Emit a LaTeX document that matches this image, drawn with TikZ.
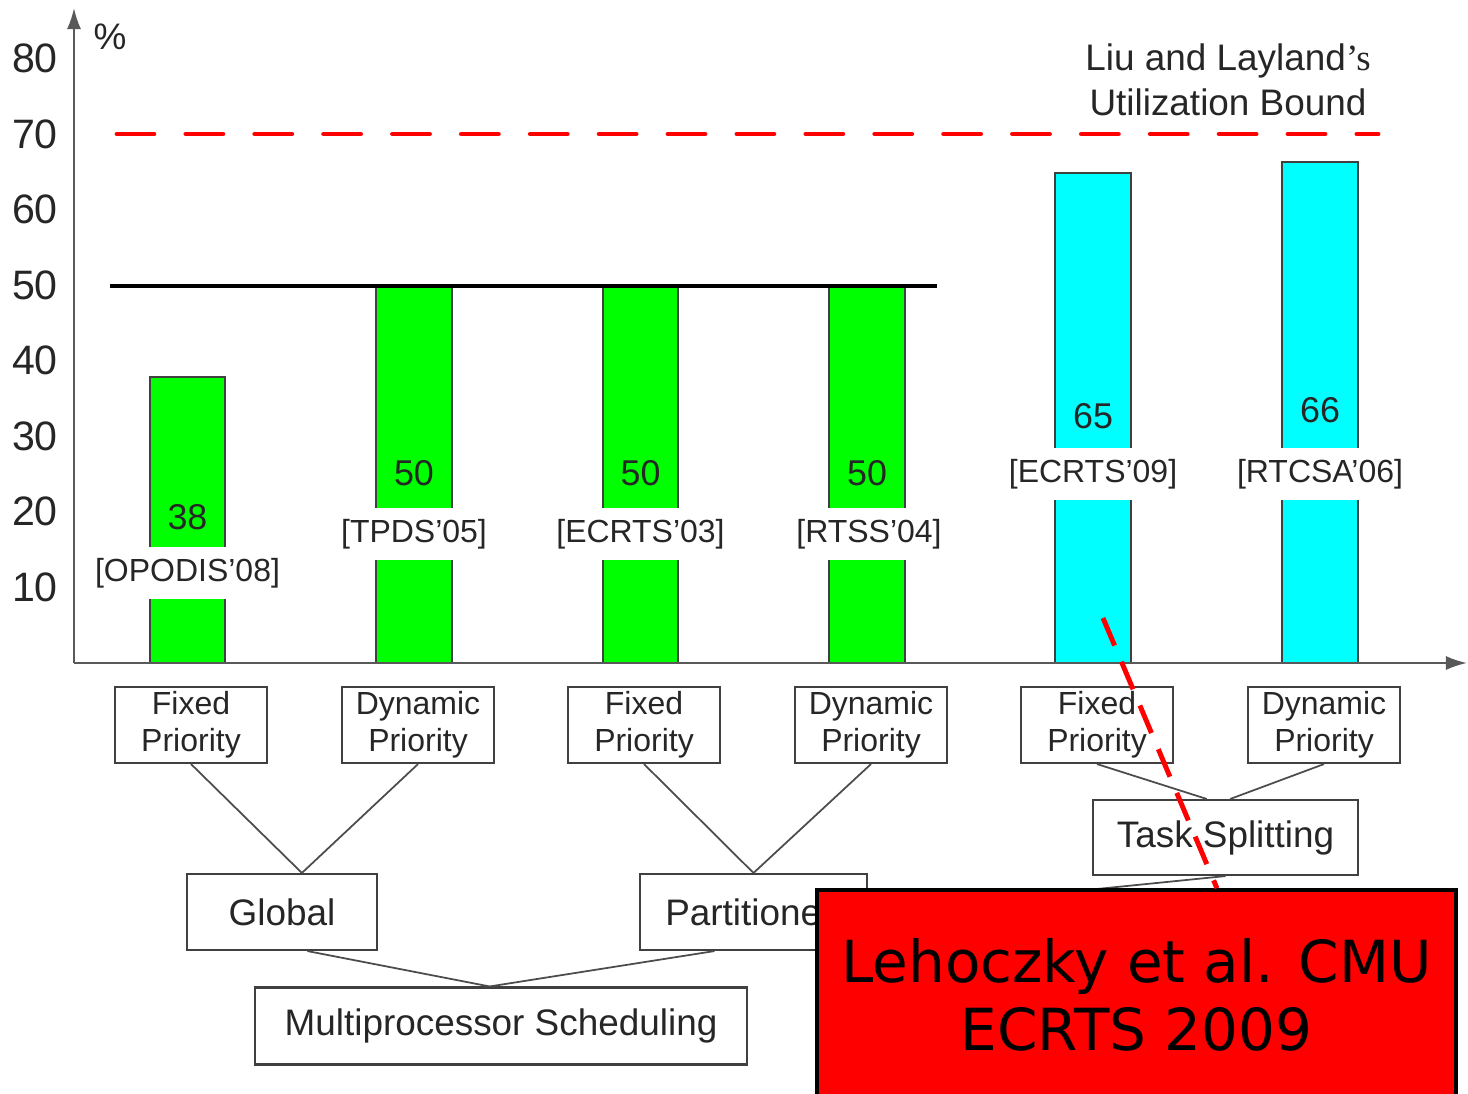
\documentclass[tikz,border=0pt]{standalone}
\usepackage{fontspec}
\setmainfont{Liberation Sans}
\newfontfamily\citefont{DejaVu Sans}
\newfontfamily\serifpart{Liberation Serif}
\usetikzlibrary{arrows.meta, positioning, calc}
\definecolor{bargreen}{RGB}{0,255,0}
\definecolor{barcyan}{RGB}{0,255,255}

\begin{document}
\begin{tikzpicture}[x=0.1mm, y=-0.1mm, text=black!85,
    axisline/.style={draw=black!65, line width=0.6pt},
    barbox/.style={draw=black!75, line width=0.6pt},
    ticklabel/.style={font=\fontsize{11.7pt}{13pt}\selectfont},
    barvalue/.style={font=\fontsize{10.2pt}{12pt}\selectfont},
    reflabel/.style={fill=white, inner xsep=1pt, inner ysep=0pt, minimum height=15pt, font=\fontsize{9.1pt}{11pt}\selectfont},
    leafbox/.style={draw=black!75, line width=0.6pt, minimum width=15.2mm, minimum height=7.6mm, inner sep=0pt, align=center, font=\fontsize{9.1pt}{10.5pt}\selectfont},
    midbox/.style={draw=black!75, line width=0.6pt, minimum height=7.6mm, inner sep=0pt, font=\fontsize{10.5pt}{12pt}\selectfont},
    linkline/.style={draw=black!70, line width=0.5pt},
    citebox/.style={fill=red, draw=black, line width=1pt, text=black, minimum width=63.9mm, minimum height=21mm, align=center, font=\citefont\fontsize{16.5pt}{19.3pt}\selectfont}]
  \useasboundingbox (0,0) rectangle (1468,1093);
  % bars
  \filldraw[barbox, fill=bargreen] (150,663) rectangle (225,377);
  \filldraw[barbox, fill=bargreen] (376,663) rectangle (452,287);
  \filldraw[barbox, fill=bargreen] (603,663) rectangle (678,287);
  \filldraw[barbox, fill=bargreen] (829,663) rectangle (905,287);
  \filldraw[barbox, fill=barcyan] (1055,663) rectangle (1131,173);
  \filldraw[barbox, fill=barcyan] (1282,663) rectangle (1358,162);
  % bounds
  \draw[black, line width=0.9pt] (110,286) -- (937,286);
  \draw[red, line width=1.4pt, line cap=round, dash pattern=on 10.5pt off 9.1pt] (117,134) -- (1378,134);
  \node[align=center, font=\fontsize{10.5pt}{12.8pt}\selectfont] (bound) at (1228,80) {Liu and Layland{\serifpart ’s}\\Utilization Bound};
  % axes
  \draw[axisline, -{Latex[length=6pt, width=4pt]}] (74,663) -- (74,8);
  \draw[axisline, -{Latex[length=6pt, width=4pt]}] (74,663) -- (1467,663);
  \node[font=\fontsize{10.5pt}{12pt}\selectfont] (pct) at (110,37) {\%};
  \node[ticklabel] (t80) at (35,58) {80};
  \node[ticklabel] (t70) at (35,134) {70};
  \node[ticklabel] (t60) at (35,209) {60};
  \node[ticklabel] (t50) at (35,285) {50};
  \node[ticklabel] (t40) at (35,360) {40};
  \node[ticklabel] (t30) at (35,436) {30};
  \node[ticklabel] (t20) at (35,511) {20};
  \node[ticklabel] (t10) at (35,587) {10};
  % bar labels
  \node[barvalue] (v38) at (187.5,517) {38};
  \node[reflabel] (opodis) at (187.5,573) {[OPODIS’08]};
  \node[barvalue] (v50a) at (414,473) {50};
  \node[reflabel] (tpds) at (414,534) {[TPDS’05]};
  \node[barvalue] (v50b) at (640.5,473) {50};
  \node[reflabel] (ecrtsa) at (640.5,534) {[ECRTS’03]};
  \node[barvalue] (v50c) at (867,473) {50};
  \node[reflabel] (rtss) at (869,534) {[RTSS’04]};
  \node[barvalue] (v65) at (1093,416) {65};
  \node[reflabel] (ecrtsb) at (1093,474) {[ECRTS’09]};
  \node[barvalue] (v66) at (1320,410) {66};
  \node[reflabel] (rtcsa) at (1320,474) {[RTCSA’06]};
  % classification tree
  \node[leafbox] (fp1) at (191,725) {Fixed\\Priority};
  \node[leafbox] (dp1) at (418,725) {Dynamic\\Priority};
  \node[leafbox] (fp2) at (644,725) {Fixed\\Priority};
  \node[leafbox] (dp2) at (871,725) {Dynamic\\Priority};
  \node[leafbox] (fp3) at (1097,725) {Fixed\\Priority};
  \node[leafbox] (dp3) at (1324,725) {Dynamic\\Priority};
  \node[midbox, minimum width=19mm] (global) at (282,912) {Global};
  \node[midbox, minimum width=22.7mm] (part) at (753.5,912) {Partitioned};
  \node[midbox, minimum width=26.5mm, minimum height=7.5mm] (split) at (1225.5,837.5) {Task Splitting};
  \node[midbox, minimum width=49.2mm, minimum height=7.7mm] (multi) at (501,1026) {Multiprocessor Scheduling};
  \draw[linkline] (fp1.south) -- (global.63);
  \draw[linkline] (dp1.south) -- (global.63);
  \draw[linkline] (fp2.south) -- (part.north);
  \draw[linkline] (dp2.south) -- (part.north);
  \draw[linkline] (fp3.south) -- (split.116);
  \draw[linkline] (dp3.south) -- (split.83);
  \draw[linkline] (split.south) -- (part.east);
  \draw[linkline] (global.-57) -- (multi.106);
  \draw[linkline] (part.-135) -- (multi.106);
  % citation
  \coordinate (hint) at (1103,618);
  \node[citebox] (cite) at (1136.5,995) {Lehoczky et al. CMU\\ECRTS 2009};
  \draw[red, line width=1.4pt, dash pattern=on 8.5pt off 5pt] (hint) -- (cite.53);
\end{tikzpicture}
\end{document}
